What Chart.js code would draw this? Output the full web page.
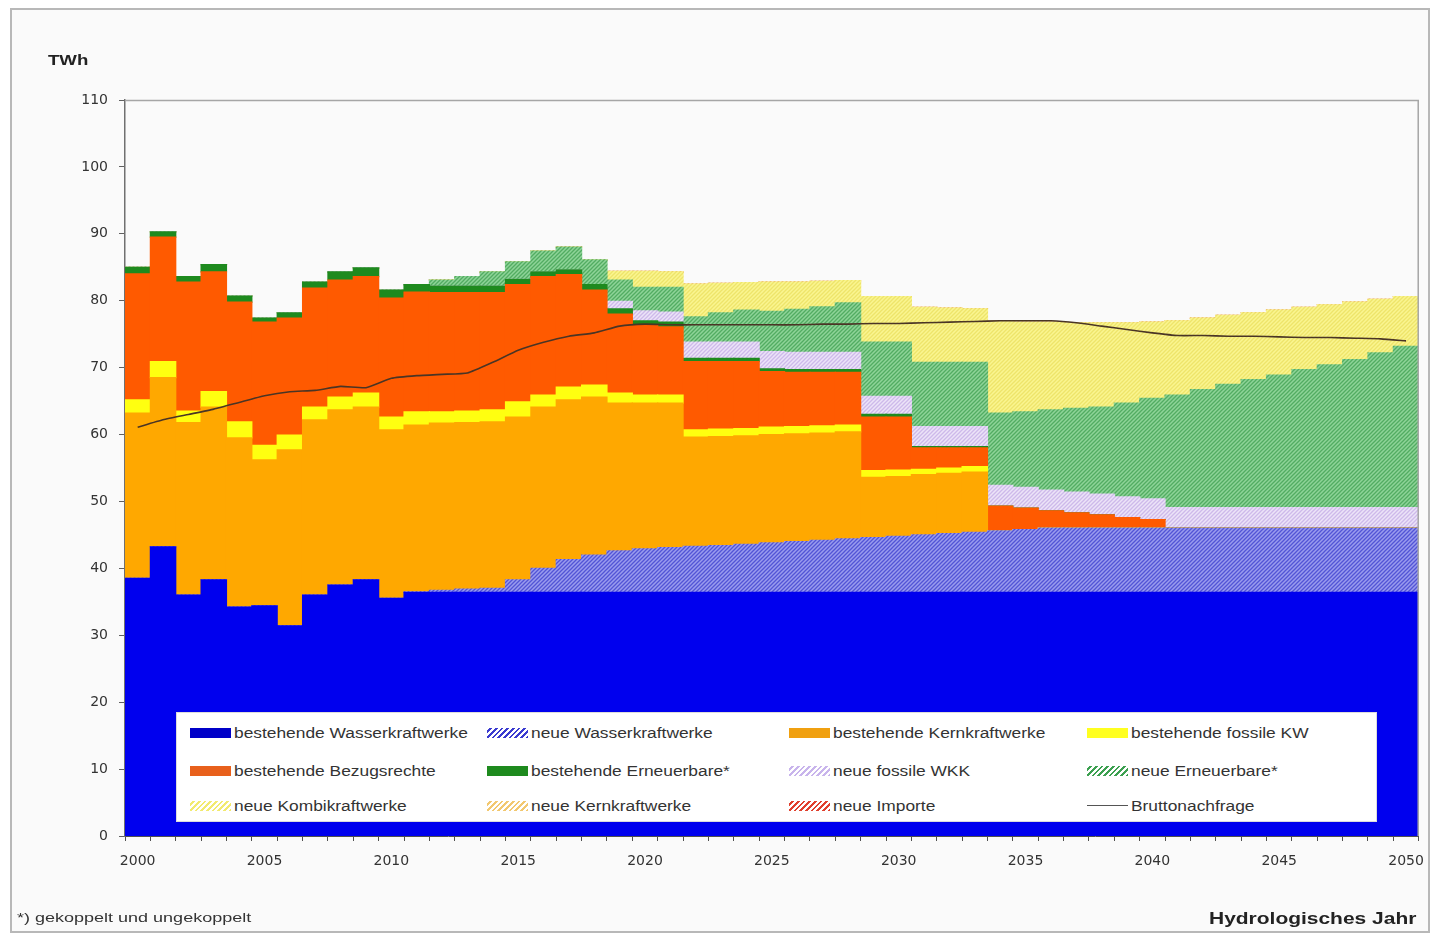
<!DOCTYPE html>
<html>
<head>
<meta charset="utf-8">
<script src="https://cdn.jsdelivr.net/npm/chart.js@4.4.1/dist/chart.umd.min.js"></script>
<style>
html,body{margin:0;padding:0;background:#ffffff;}
#wrap{position:relative;width:1436px;height:935px;overflow:hidden;background:#ffffff;font-family:"Liberation Sans",Arial,sans-serif;}
#frame{position:absolute;left:10px;top:8px;width:1420px;height:925px;border:2px solid #b8b8b8;background:#fafafa;box-sizing:border-box;}
#c{position:absolute;left:0;top:0;}
.t{position:absolute;white-space:nowrap;transform-origin:0 50%;color:#222;}
#legend{position:absolute;left:176px;top:712px;width:1201px;height:110px;background:#ffffff;border:1px solid #dcdcdc;box-sizing:border-box;}
.li{position:absolute;height:16px;width:290px;}
.sw{position:absolute;left:0;top:3px;width:41px;height:10px;}
.lt{position:absolute;left:44px;top:0;font-size:14px;line-height:16px;color:#333;transform:scaleX(1.24);transform-origin:0 50%;white-space:nowrap;}
</style>
</head>
<body>
<div id="wrap">
  <div id="frame"></div>
  <canvas id="c" width="1436" height="935" style="width:1436px;height:935px"></canvas>
  <div class="t" style="left:48px;top:52px;font-size:14px;font-weight:bold;transform:scaleX(1.33);line-height:16px;">TWh</div>
  <div class="t" style="left:17px;top:911px;font-size:12px;line-height:14px;transform:scaleX(1.5);color:#333;">*) gekoppelt und ungekoppelt</div>
  <div class="t" style="left:1209px;top:910px;font-size:16px;font-weight:bold;line-height:18px;transform:scaleX(1.31);">Hydrologisches Jahr</div>
  <div id="legend"></div>
</div>
<script>
// ---- Data (TWh), hydrological years 2000-2050 ----
const years = ['2000','2001','2002','2003','2004','2005','2006','2007','2008','2009',
  '2010','2011','2012','2013','2014','2015','2016','2017','2018','2019',
  '2020','2021','2022','2023','2024','2025','2026','2027','2028','2029',
  '2030','2031','2032','2033','2034','2035','2036','2037','2038','2039',
  '2040','2041','2042','2043','2044','2045','2046','2047','2048','2049','2050'];
const yTicks = [0,10,20,30,40,50,60,70,80,90,100,110];

const bestWasser = [38.5,43.2,36.0,38.3,34.2,34.4,31.4,36.0,37.5,38.3,
  35.5,36.4,36.4,36.4,36.4,36.4,36.4,36.4,36.4,36.4,
  36.4,36.4,36.4,36.4,36.4,36.4,36.4,36.4,36.4,36.4,
  36.4,36.4,36.4,36.4,36.4,36.4,36.4,36.4,36.4,36.4,
  36.4,36.4,36.4,36.4,36.4,36.4,36.4,36.4,36.4,36.4,36.4];
const neuWasser = [0,0,0,0,0,0,0,0,0,0,
  0,0.1,0.3,0.5,0.6,1.9,3.6,4.9,5.6,6.2,
  6.5,6.7,6.9,7.0,7.2,7.4,7.6,7.8,8.0,8.2,
  8.4,8.6,8.8,9.0,9.2,9.4,9.6,9.6,9.6,9.6,
  9.6,9.6,9.6,9.6,9.6,9.6,9.6,9.6,9.6,9.6,9.6];
const bestKern = [24.7,25.3,25.8,25.8,25.3,21.8,26.3,26.2,26.2,25.8,
  25.2,24.9,25.0,24.9,24.9,24.3,24.1,23.9,23.6,22.1,
  21.8,21.6,16.3,16.3,16.2,16.2,16.1,16.0,16.0,9.0,
  8.9,9.0,9.0,9.0,0,0,0,0,0,0,
  0,0,0,0,0,0,0,0,0,0,0];
const bestFossil = [2.0,2.4,1.7,2.3,2.4,2.2,2.2,1.9,1.9,2.1,
  1.9,2.0,1.7,1.7,1.8,2.3,1.8,1.9,1.8,1.5,
  1.2,1.2,1.1,1.1,1.1,1.1,1.1,1.1,1.0,1.0,
  1.0,0.8,0.8,0.8,0,0,0,0,0,0,
  0,0,0,0,0,0,0,0,0,0,0];
const bestBezug = [18.8,18.6,19.3,17.9,17.9,18.4,17.5,17.8,17.5,17.4,
  17.8,17.9,17.8,17.7,17.5,17.5,17.7,16.8,14.2,11.8,
  10.4,10.2,10.2,10.1,10.0,8.3,8.1,8.0,7.9,8.0,
  7.9,3.2,3.0,2.8,3.7,3.2,2.6,2.3,2.0,1.6,
  1.3,0,0,0,0,0,0,0,0,0,0];
const bestErneuerbar = [1.0,0.8,0.8,1.1,0.9,0.6,0.8,0.9,1.2,1.3,
  1.2,1.1,1.0,1.0,1.0,0.8,0.7,0.7,0.8,0.8,
  0.7,0.7,0.5,0.5,0.5,0.4,0.4,0.4,0.4,0.4,
  0.4,0.2,0.2,0.2,0,0,0,0,0,0,
  0,0,0,0,0,0,0,0,0,0,0];
const neuWKK = [0,0,0,0,0,0,0,0,0,0,
  0,0,0,0,0,0,0,0,0,1.1,
  1.5,1.5,2.4,2.4,2.4,2.6,2.6,2.6,2.6,2.7,
  2.7,3.0,3.0,3.0,3.1,3.1,3.1,3.1,3.1,3.1,
  3.1,3.1,3.1,3.1,3.1,3.1,3.1,3.1,3.1,3.1,3.1];
const neuErneuerbar = [0,0,0,0,0,0,0,0,0,0,
  0,0,0.9,1.4,2.1,2.6,3.1,3.4,3.7,3.2,
  3.5,3.7,3.8,4.4,4.8,6.0,6.4,6.8,7.4,8.1,
  8.1,9.6,9.6,9.6,10.8,11.3,12.0,12.5,13.0,14.0,
  15.0,16.8,17.6,18.4,19.1,19.8,20.6,21.3,22.1,23.1,24.1];
const neuKombi = [0,0,0,0,0,0,0,0,0,0,
  0,0,0,0,0,0,0,0,0,1.3,
  2.4,2.3,4.9,4.4,4.1,4.4,4.1,3.8,3.3,6.8,
  6.8,8.2,8.1,8.0,13.7,13.4,13.1,12.8,12.6,12.0,
  11.4,11.1,10.7,10.3,10.0,9.7,9.3,9.0,8.6,8.0,7.4];
const neuKern = [0,0,0,0,0,0,0,0,0,0,
  0,0,0,0,0,0,0,0,0,0,
  0,0,0,0,0,0,0,0,0,0,
  0,0,0,0,0,0,0,0,0,0,
  0,0,0,0,0,0,0,0,0,0,0];
const neuImporte = [0,0,0,0,0,0,0,0,0,0,
  0,0,0,0,0,0,0,0,0,0,
  0,0,0,0,0,0,0,0,0,0,
  0,0,0,0,0,0,0,0,0,0,
  0,0,0,0,0,0,0,0,0,0,0];
const bruttonachfrage = [61.1,62.2,63.0,63.8,64.8,65.8,66.4,66.6,67.2,67.0,
  68.4,68.8,69.0,69.2,70.8,72.6,73.8,74.7,75.2,76.2,
  76.5,76.4,76.4,76.4,76.4,76.4,76.4,76.5,76.5,76.6,
  76.6,76.7,76.8,76.9,77.0,77.0,77.0,76.7,76.2,75.7,
  75.2,74.8,74.8,74.7,74.7,74.6,74.5,74.5,74.4,74.3,74.0];

// ---- Rendering ----
const canvas = document.getElementById('c');
const ctx = canvas.getContext('2d');
function hatch(bg, fg, size, lw){
  const c = document.createElement('canvas');
  c.width = size; c.height = size;
  const g = c.getContext('2d');
  g.fillStyle = bg; g.fillRect(0,0,size,size);
  g.strokeStyle = fg; g.lineWidth = lw;
  g.beginPath();
  g.moveTo(-1,size+1); g.lineTo(size+1,-1);
  g.moveTo(-size/2-1,size/2+1); g.lineTo(size/2+1,-size/2-1);
  g.moveTo(size/2-1,size*1.5+1); g.lineTo(size*1.5+1,size/2-1);
  g.stroke();
  return ctx.createPattern(c,'repeat');
}
const C = {
  bestWasser:'#0000ee',
  neuWasser: hatch('#9a9cee','#5254d6',4,1.3),
  bestKern:'#ffa800',
  bestFossil:'#ffff10',
  bestBezug:'#ff5a00',
  bestErneuerbar:'#1e8a1e',
  neuWKK: hatch('#ece4f8','#cdb9ea',4,1.3),
  neuErneuerbar: hatch('#8ed498','#52ac62',4,1.3),
  neuKombi: hatch('#faf590','#eee46a',4,1.3),
  neuKern: hatch('#fde8b8','#f0c060',4,1.3),
  neuImporte: hatch('#f8b8a8','#e04030',4,1.3),
  brutto:'#4a3525'
};

function bar(label, data, color){
  return {type:'bar', label, data, backgroundColor:color, borderWidth:0,
    barPercentage:1.0, categoryPercentage:1.0, inflateAmount:0.6, stack:'s', order:1};
}

const framePlugin = {
  id:'frame',
  afterDatasetsDraw(chart){
    const a = chart.chartArea, g = chart.ctx;
    g.save();
    g.strokeStyle = '#a6a6a6'; g.lineWidth = 1.5;
    g.beginPath();
    g.moveTo(a.left, a.top+0.5); g.lineTo(a.right-0.5, a.top+0.5); g.lineTo(a.right-0.5, a.bottom);
    g.stroke();
    g.restore();
  }
};

new Chart(ctx, {
  data:{
    labels: years,
    datasets:[
      bar('bestehende Wasserkraftwerke', bestWasser, C.bestWasser),
      bar('neue Wasserkraftwerke', neuWasser, C.neuWasser),
      bar('bestehende Kernkraftwerke', bestKern, C.bestKern),
      bar('bestehende fossile KW', bestFossil, C.bestFossil),
      bar('bestehende Bezugsrechte', bestBezug, C.bestBezug),
      bar('bestehende Erneuerbare*', bestErneuerbar, C.bestErneuerbar),
      bar('neue fossile WKK', neuWKK, C.neuWKK),
      bar('neue Erneuerbare*', neuErneuerbar, C.neuErneuerbar),
      bar('neue Kombikraftwerke', neuKombi, C.neuKombi),
      bar('neue Kernkraftwerke', neuKern, C.neuKern),
      bar('neue Importe', neuImporte, C.neuImporte),
      {type:'line', label:'Bruttonachfrage', data:bruttonachfrage, borderColor:C.brutto,
        borderWidth:1.6, pointRadius:0, tension:0.15, fill:false, stack:'line', order:0}
    ]
  },
  options:{
    responsive:false, devicePixelRatio:1, animation:false,
    layout:{padding:{left:65, top:100, right:15, bottom:59}},
    plugins:{legend:{display:false}, tooltip:{enabled:false}},
    scales:{
      x:{
        stacked:true, offset:true,
        grid:{drawOnChartArea:false, drawTicks:true, tickLength:5, color:'#505050', offset:true},
        border:{display:true, color:'#505050', width:1},
        ticks:{autoSkip:false, maxRotation:0, minRotation:0, padding:12, color:'#333',
          font:{family:'DejaVu Sans', size:14},
          callback:function(v,i){ return (parseInt(years[i],10)%5===0) ? years[i] : ''; }},
        afterFit:function(s){ s.height = 40; }
      },
      y:{
        stacked:true, min:0, max:110,
        afterBuildTicks:function(s){ s.ticks = yTicks.map(v=>({value:v})); },
        grid:{drawOnChartArea:false, drawTicks:true, tickLength:6, color:'#606060'},
        border:{display:true, color:'#707070', width:1.5},
        ticks:{padding:11, color:'#333', font:{family:'DejaVu Sans', size:14}},
        afterFit:function(s){ s.width = 60; }
      }
    }
  },
  plugins:[framePlugin]
});

// ---- HTML legend (inside plot area) ----
const legendItems = [
  {t:'bestehende Wasserkraftwerke', s:'background:#0000c8;', col:0,row:0},
  {t:'neue Wasserkraftwerke', s:'background:repeating-linear-gradient(135deg,#ffffff 0 2px,#3a3ad0 2px 4px);', col:1,row:0},
  {t:'bestehende Kernkraftwerke', s:'background:#f0a010;', col:2,row:0},
  {t:'bestehende fossile KW', s:'background:#ffff20;', col:3,row:0},
  {t:'bestehende Bezugsrechte', s:'background:#e8601c;', col:0,row:1},
  {t:'bestehende Erneuerbare*', s:'background:#1e8a1e;', col:1,row:1},
  {t:'neue fossile WKK', s:'background:repeating-linear-gradient(135deg,#ffffff 0 2px,#c8b4ec 2px 4px);', col:2,row:1},
  {t:'neue Erneuerbare*', s:'background:repeating-linear-gradient(135deg,#ffffff 0 2px,#3ca050 2px 4px);', col:3,row:1},
  {t:'neue Kombikraftwerke', s:'background:repeating-linear-gradient(135deg,#ffffff 0 2px,#f2ea70 2px 4px);', col:0,row:2},
  {t:'neue Kernkraftwerke', s:'background:repeating-linear-gradient(135deg,#ffffff 0 2px,#f2c870 2px 4px);', col:1,row:2},
  {t:'neue Importe', s:'background:repeating-linear-gradient(135deg,#ffffff 0 2px,#e0402e 2px 4px);', col:2,row:2},
  {t:'Bruttonachfrage', s:'background:linear-gradient(#ffffff 0 4px,#555 4px 5px,#ffffff 5px);', col:3,row:2}
];
const colX = [13, 310, 612, 910];
const rowY = [12, 50, 85];
const lg = document.getElementById('legend');
legendItems.forEach(it=>{
  const d = document.createElement('div');
  d.className = 'li';
  d.style.left = colX[it.col]+'px';
  d.style.top = rowY[it.row]+'px';
  d.innerHTML = '<div class="sw" style="'+it.s+'"></div><div class="lt">'+it.t+'</div>';
  lg.appendChild(d);
});
</script>
</body>
</html>
